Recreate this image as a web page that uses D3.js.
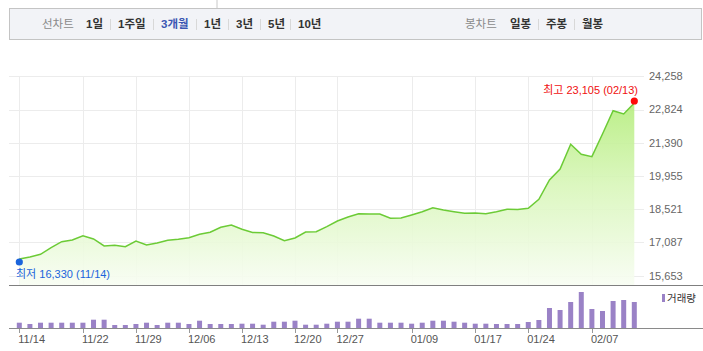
<!DOCTYPE html>
<html>
<head>
<meta charset="utf-8">
<script src="https://cdn.jsdelivr.net/npm/d3@7"></script>
<style>
  body { margin: 0; background: #fff; }
  svg { display: block; font-family: "Liberation Sans", "Noto Sans CJK KR", sans-serif; }
</style>
</head>
<body>
<svg id="svg1"></svg>
<script>
// closing price per trading day, 11/14 .. 02/13
var closes = [16374,16460,16577,16862,17120,17194,17379,17237,16935,16965,
              16905,17151,16978,17064,17181,17224,17293,17440,17526,17742,
              17841,17656,17517,17510,17366,17164,17280,17539,17552,17768,
              18014,18186,18329,18320,18316,18130,18140,18273,18415,18588,
              18488,18415,18346,18359,18329,18415,18519,18510,18562,18950,
              19783,20258,21324,20892,20789,21768,22774,22631,23105];
// volume (thousand shares)
var volumes = [530,400,530,530,530,530,530,830,830,300,
               300,400,530,300,530,530,400,730,400,400,
               400,430,430,330,630,630,730,330,330,430,
               630,630,930,930,530,530,530,430,530,730,
               730,630,530,430,430,400,400,400,600,800,
               2000,1800,2600,3600,1900,1700,2700,2800,2600];
var tickIdx = [0,6,11,16,21,26,30,37,43,48,54];
var tickLbl = ['11/14','11/22','11/29','12/06','12/13','12/20','12/27','01/09','01/17','01/24','02/07'];
var yTicks = [15653,17087,18521,19955,21390,22824,24258];
var hiVal = 23105, hiLbl = '최고 23,105 (02/13)', hiIdx = 58;
var loVal = 16330, loLbl = '최저 16,330 (11/14)', loIdx = 0;
var lineTabs = ['1일','1주일','3개월','1년','3년','5년','10년'];
var candleTabs = ['일봉','주봉','월봉'];

var W = 703, H = 351;
var svg = d3.select('#svg1').attr('width', W).attr('height', H);

// ---- top menu bar
svg.append('line').attr('x1', 217).attr('x2', 217).attr('y1', 0).attr('y2', 8)
  .style('stroke', '#c8c8c8');
svg.append('rect').attr('x', 9.5).attr('y', 8.5).attr('width', 692).attr('height', 31)
  .style('fill', '#f2f3f7').style('stroke', '#c4c4c4');

function tabRow(title, tx, items, xs, active) {
  svg.append('text').attr('x', tx).attr('y', 24).attr('dy', '0.36em')
    .text(title).style('font-size', '11.5px').style('fill', '#8a8a8a');
  svg.selectAll(null).data(items).enter().append('text')
    .attr('x', (d, i) => xs[i]).attr('y', 24).attr('dy', '0.36em')
    .text(d => d)
    .style('font-size', '11.5px').style('font-weight', 'bold')
    .style('fill', d => d === active ? '#3b57b3' : '#333');
  svg.selectAll(null).data(xs.slice(1)).enter().append('line')
    .attr('x1', d => d - 7.5).attr('x2', d => d - 7.5).attr('y1', 19).attr('y2', 30)
    .style('stroke', '#d8d8d8');
}
tabRow('선차트', 42, lineTabs, [86, 118, 161, 204, 236, 268, 298], '3개월');
tabRow('봉차트', 465, candleTabs, [510, 546, 582], null);

// ---- scales
var x = d3.scaleLinear().domain([0, closes.length - 1]).range([19.3, 634.3]);
var y = d3.scaleLinear().domain([15653, 24258]).range([275.7, 76.3]);
var yv = d3.scaleLinear().domain([0, 3600]).range([328, 292]);
var panelBottom = 285.5;

// grid
svg.append('g').selectAll('line').data(yTicks).enter().append('line')
  .attr('x1', 9).attr('x2', 644)
  .attr('y1', d => Math.round(y(d)) + 0.5).attr('y2', d => Math.round(y(d)) + 0.5)
  .style('stroke', '#ececec');
svg.append('g').selectAll('line').data(tickIdx).enter().append('line')
  .attr('x1', d => Math.round(x(d)) + 0.5).attr('x2', d => Math.round(x(d)) + 0.5)
  .attr('y1', 76).attr('y2', panelBottom)
  .style('stroke', '#ececec');

// area gradient
var grad = svg.append('defs').append('linearGradient')
  .attr('id', 'grad').attr('x1', '0%').attr('x2', '0%').attr('y1', '0%').attr('y2', '100%');
grad.append('stop').attr('offset', '0%').style('stop-color', '#b5ed7d');
grad.append('stop').attr('offset', '45%').style('stop-color', '#d8f6b9');
grad.append('stop').attr('offset', '100%').style('stop-color', '#f8fdf3');

svg.append('path').datum(closes)
  .attr('d', d3.area().x((d, i) => x(i)).y0(panelBottom).y1(d => y(d)))
  .style('fill', 'url(#grad)').style('opacity', 0.9);
svg.append('path').datum(closes)
  .attr('d', d3.line().x((d, i) => x(i)).y(d => y(d)))
  .style('fill', 'none').style('stroke', '#6ccb36').style('stroke-width', 1.5);

// y axis labels
svg.append('g').selectAll('text').data(yTicks).enter().append('text')
  .attr('x', 649).attr('y', d => y(d)).attr('dy', '0.36em')
  .text(d3.format(','))
  .style('font-size', '11px').style('fill', '#666');

// high / low markers
svg.append('circle').attr('cx', x(hiIdx)).attr('cy', y(hiVal) - 2).attr('r', 3.6).style('fill', '#ff0a0a');
svg.append('text').attr('x', 638).attr('y', 94).attr('text-anchor', 'end')
  .text(hiLbl).style('font-size', '11px').style('fill', '#f01010');
svg.append('circle').attr('cx', x(loIdx)).attr('cy', y(loVal) + 2).attr('r', 3.6).style('fill', '#1a64dc');
svg.append('text').attr('x', 16).attr('y', 278).attr('text-anchor', 'start')
  .text(loLbl).style('font-size', '11px').style('fill', '#1a64dc');

// panel separators
svg.append('line').attr('x1', 9).attr('x2', W).attr('y1', panelBottom).attr('y2', panelBottom)
  .style('stroke', '#7f7f7f').style('stroke-width', 1.2);

// volume bars
svg.append('g').selectAll('rect').data(volumes).enter().append('rect')
  .attr('x', (d, i) => x(i) - 2.5).attr('width', 5)
  .attr('y', d => yv(d)).attr('height', d => yv(0) - yv(d))
  .style('fill', '#9a82c6');
svg.append('line').attr('x1', 9).attr('x2', W).attr('y1', 328.5).attr('y2', 328.5)
  .style('stroke', '#8a8a8a');

// x ticks + labels
svg.append('g').selectAll('line').data(tickIdx).enter().append('line')
  .attr('x1', d => Math.round(x(d)) + 0.5).attr('x2', d => Math.round(x(d)) + 0.5)
  .attr('y1', 329).attr('y2', 333).style('stroke', '#999');
svg.append('g').selectAll('text').data(tickIdx).enter().append('text')
  .attr('x', d => x(d) - 1).attr('y', 343)
  .text((d, i) => tickLbl[i])
  .style('font-size', '11px').style('fill', '#555');

// legend
svg.append('rect').attr('x', 662).attr('y', 294).attr('width', 3).attr('height', 8).style('fill', '#9a82c6');
svg.append('text').attr('x', 667).attr('y', 298).attr('dy', '0.36em')
  .text('거래량').style('font-size', '10.5px').style('fill', '#333');
</script>
</body>
</html>
